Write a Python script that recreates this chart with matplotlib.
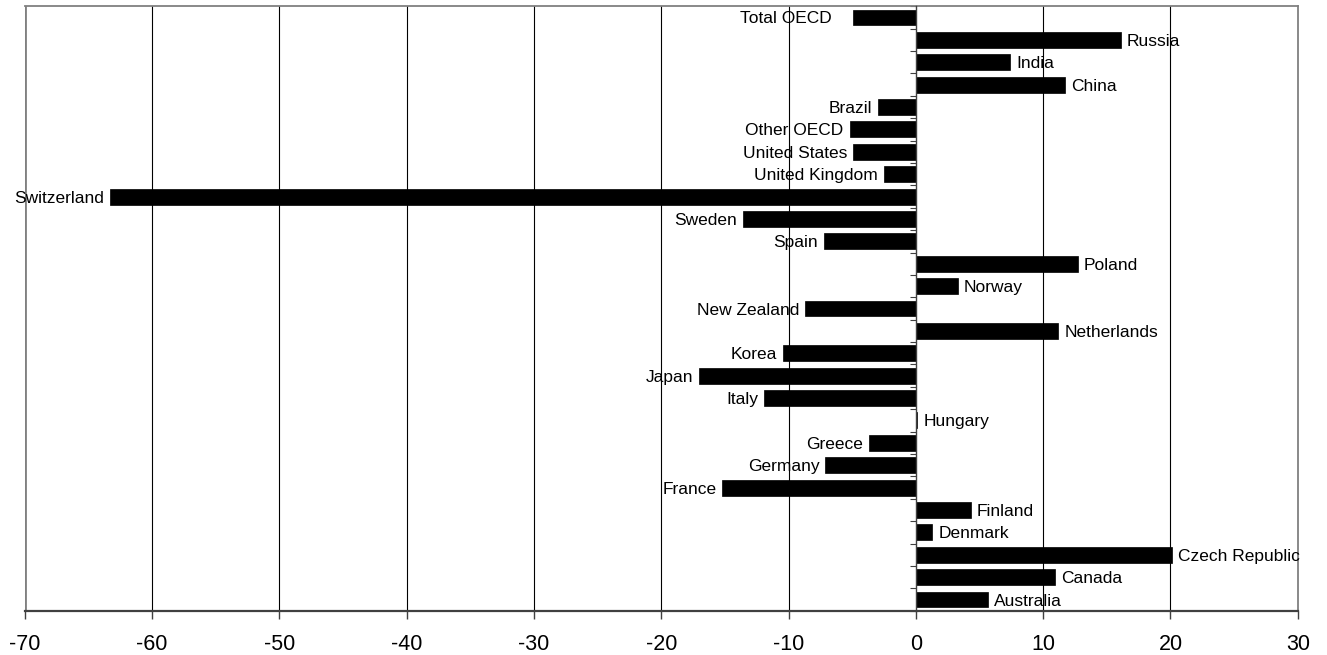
import matplotlib
matplotlib.use("Agg")
import matplotlib.pyplot as plt
import numpy as np

plt.rcParams['font.family'] = ['Liberation Sans', 'DejaVu Sans']

# Change in value by country (percent)
countries = [
    "Total OECD", "Russia", "India", "China", "Brazil", "Other OECD",
    "United States", "United Kingdom", "Switzerland", "Sweden", "Spain",
    "Poland", "Norway", "New Zealand", "Netherlands", "Korea", "Japan",
    "Italy", "Hungary", "Greece", "Germany", "France", "Finland",
    "Denmark", "Czech Republic", "Canada", "Australia",
]
values = [
    -4.9, 16.1, 7.4, 11.7, -3.0, -5.2,
    -4.9, -2.5, -63.3, -13.6, -7.2,
    12.7, 3.3, -8.7, 11.2, -10.4, -17.0,
    -11.9, 0.1, -3.7, -7.1, -15.2, 4.3,
    1.3, 20.1, 10.9, 5.7,
]
x_ticks = [-70, -60, -50, -40, -30, -20, -10, 0, 10, 20, 30]

fig = plt.figure(figsize=(13.27, 6.55), dpi=100)
ax = fig.add_axes([0.0186, 0.0676, 0.9594, 0.9228])

pos = np.arange(len(countries))
ax.barh(pos, values, height=0.71, color="black", edgecolor="black",
        linewidth=0.5, zorder=3)

ax.set_xlim(x_ticks[0], x_ticks[-1])
ax.set_ylim(len(countries) - 0.5, -0.5)

# vertical gridlines
for t in x_ticks[1:-1]:
    if t != 0:
        ax.axvline(t, color="black", linewidth=0.8, zorder=1)

# frame
for side in ("top", "right"):
    ax.spines[side].set_color("#808080")
    ax.spines[side].set_linewidth(1.3)
ax.spines["bottom"].set_color("#404040")
ax.spines["bottom"].set_linewidth(1.6)
ax.axvline(x_ticks[0], color="#808080", linewidth=2.0, zorder=2)

# category axis runs along zero
ax.spines["left"].set_position(("data", 0))
ax.spines["left"].set_color("#404040")
ax.spines["left"].set_linewidth(1.0)
ax.spines["left"].set_zorder(4)
ax.set_yticks(np.arange(len(countries) + 1) - 0.5)
ax.set_yticklabels([])
ax.tick_params(axis="y", direction="out", length=4, width=0.8, color="#404040")

ax.set_xticks(x_ticks)
ax.set_xticklabels([str(t) for t in x_ticks], fontsize=15.5)
ax.tick_params(axis="x", direction="out", length=6, width=1.0,
               color="#404040", pad=11)

# category labels next to bar ends
for p, v, name in zip(pos, values, countries):
    gap = 22 if name == "Total OECD" else 6
    if v >= 0:
        ax.annotate(name, (v, p), xytext=(gap, 0), textcoords="offset pixels",
                    ha="left", va="center_baseline", fontsize=12.5, zorder=5)
    else:
        ax.annotate(name, (v, p), xytext=(-gap, 0), textcoords="offset pixels",
                    ha="right", va="center_baseline", fontsize=12.5, zorder=5)

fig.savefig("out.png", dpi=100)
